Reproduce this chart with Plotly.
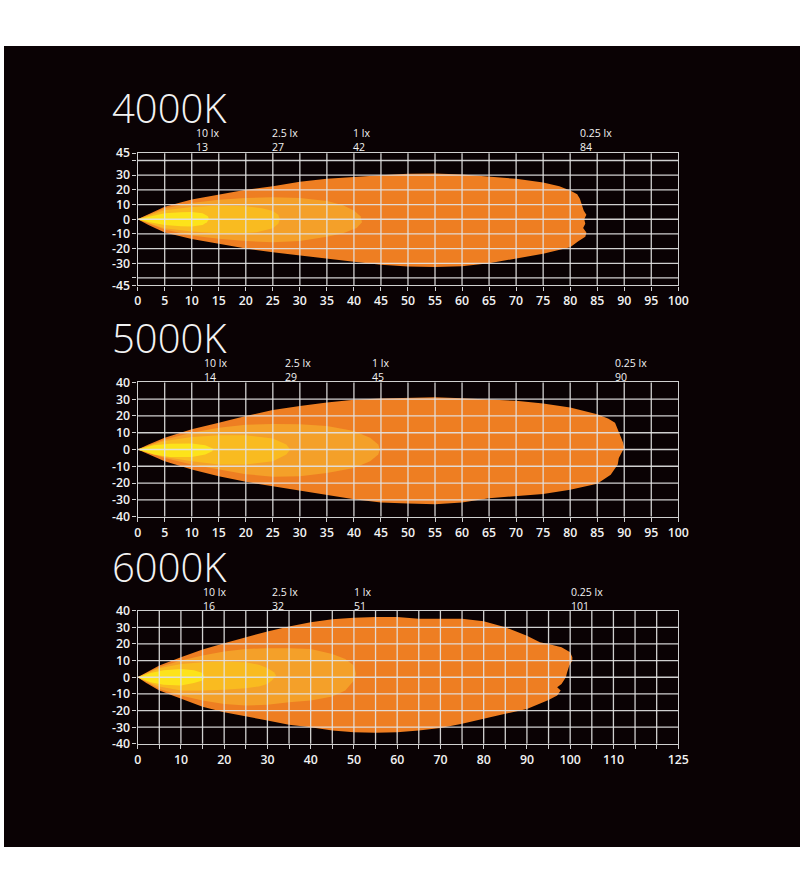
import plotly.graph_objects as go

# ---------------- data ----------------
PANEL_TITLES = ["4000K", "5000K", "6000K"]
LUX_LEVELS = ["10 lx", "2.5 lx", "1 lx", "0.25 lx"]

DIST_4000K = [13, 27, 42, 84]
DIST_5000K = [14, 29, 45, 90]
DIST_6000K = [16, 32, 51, 101]

X_TICKS_100 = list(range(0, 101, 5))
X_LABELS_100 = [str(v) for v in X_TICKS_100]
X_TICKS_125 = list(range(0, 126, 5))
X_LABELS_125 = ["0", "", "10", "", "20", "", "30", "", "40", "", "50", "", "60", "",
                "70", "", "80", "", "90", "", "100", "", "110", "", "", "125"]
Y_TICKS_45 = [-45, -40, -30, -20, -10, 0, 10, 20, 30, 40, 45]
Y_LABELS_45 = ["-45", "", "-30", "-20", "-10", "0", "10", "20", "30", "", "45"]
Y_TICKS_40 = [-40, -30, -20, -10, 0, 10, 20, 30, 40]
Y_LABELS_40 = ["-40", "-30", "-20", "-10", "0", "10", "20", "30", "40"]

# ---- 4000K isolux outlines (distance m, width m) ----
K4_025_X = [0, 2, 5, 10, 15, 20, 25, 30, 35, 40, 45, 50, 55, 60, 65, 70, 75, 78, 80, 81.3, 81.8, 82.2,
            82.5, 83, 82.6, 82.8, 82.4, 83, 82.8, 81.5, 80, 75, 70, 65, 60, 55, 50, 45, 40, 35, 30,
            25, 20, 15, 10, 5, 2, 0]
K4_025_Y = [0, 3.5, 8.5, 13.5, 17, 20, 22.5, 25.5, 27.5, 29, 30, 31, 31.2, 30.5, 29.2, 27.5, 25, 22.5,
            19.5, 17, 14, 10, 6, 3, 0, -3, -6, -9, -12, -15, -19, -23.5, -27, -30, -32, -32.5, -32.2,
            -31, -29, -27, -25, -22.5, -20, -17, -13.5, -9, -4, 0]
K4_1_X = [0, 2, 5, 10, 15, 20, 25, 30, 35, 38, 40, 41.2, 41.5, 40.5, 38, 35, 30, 25, 20, 15, 10, 5, 2, 0]
K4_1_Y = [0, 3, 7.5, 11, 13.3, 14.4, 15, 14.5, 12.5, 9.5, 6, 2, -2, -6, -9.5, -12, -14.8, -15.6,
          -14.9, -13.3, -11, -7, -3, 0]
K4_25_X = [0, 2, 5, 10, 15, 20, 23, 25, 26, 26.3, 26, 25, 22, 20, 15, 10, 5, 2, 0]
K4_25_Y = [0, 2.5, 6.2, 8.4, 9.3, 8.9, 7.5, 5.6, 3, 0, -3, -6.2, -8.8, -9.3, -9.6, -8.4, -6.2, -2.5, 0]
K4_10_X = [0, 2, 5, 8, 10, 12, 13, 13.2, 12.8, 12, 10, 8, 5, 2, 0]
K4_10_Y = [0, 1.8, 4, 4.8, 4.9, 4, 2, 0, -2, -4, -4.9, -4.8, -4, -1.8, 0]

# ---- 5000K ----
K5_025_X = [0, 2, 5, 10, 15, 20, 25, 30, 35, 40, 45, 50, 55, 60, 65, 70, 75, 80, 85, 87, 88.3, 88.8,
            89.3, 89.8, 90, 89.5, 89, 88.8, 88.2, 87.5, 85, 80, 75, 70, 65, 60, 55, 50, 45, 40, 35,
            30, 25, 20, 15, 10, 5, 2, 0]
K5_025_Y = [0, 3, 7, 12, 16, 20, 23.5, 26, 28, 29.6, 30.4, 30.8, 31.2, 30.6, 30, 29, 27.4, 25, 21,
            18.5, 16, 12, 8, 4, 1, -2, -5, -9, -12, -15, -20.5, -24, -26.5, -27.6, -29, -31.6, -32.6,
            -32.2, -31.6, -29.6, -27, -24.6, -22, -19.3, -16, -12, -7, -3, 0]
K5_1_X = [0, 2, 5, 10, 15, 20, 25, 30, 35, 40, 43, 44.5, 44.8, 44.5, 43, 40, 35, 30, 25, 20, 15, 10, 5, 2, 0]
K5_1_Y = [0, 2.5, 6, 10, 13, 14.7, 15.2, 15, 14, 11, 7, 3, 0, -3, -7, -11, -14, -16, -16.2, -14.7,
          -12, -9, -5, -2, 0]
K5_25_X = [0, 2, 5, 10, 15, 20, 25, 27.5, 28.2, 27.5, 25, 20, 15, 10, 5, 2, 0]
K5_25_Y = [0, 2.3, 5, 7.5, 8.5, 8.5, 6.5, 3, 0, -3, -7, -9, -9, -7, -4.5, -2, 0]
K5_10_X = [0, 3, 6, 10, 12.5, 14, 13.8, 12.5, 10, 6, 3, 0]
K5_10_Y = [0, 2.5, 3.5, 3.6, 2.5, 0.5, -1, -3, -4.5, -4.5, -3, 0]

# ---- 6000K ----
K6_025_X = [0, 2, 5, 10, 15, 20, 25, 30, 35, 40, 45, 50, 55, 60, 65, 70, 75, 80, 85, 90, 93, 95, 98,
            100, 100.5, 100.5, 99.8, 99.3, 99, 98, 97, 97.8, 97, 95, 90, 85, 80, 75, 70, 65, 60, 55,
            50, 45, 40, 35, 30, 25, 20, 15, 10, 5, 2, 0]
K6_025_Y = [0, 3, 7, 12, 16.7, 20.5, 24, 27.5, 30.5, 33, 34.8, 35.8, 36.2, 36.2, 35.2, 35, 35.2, 33.6,
            30, 25, 21, 20, 18, 15, 12, 10, 7, 3, 0, -4, -6, -8, -11, -13.7, -19, -22, -25, -28,
            -30.5, -32, -33, -33.3, -33, -32, -30, -28.5, -26, -23.5, -21, -17.7, -13, -8, -3.5, 0]
K6_1_X = [0, 2, 5, 10, 15, 20, 25, 30, 35, 40, 45, 48, 50, 50.5, 50, 49, 48, 45, 40, 35, 30, 25, 20,
          15, 10, 5, 2, 0]
K6_1_Y = [0, 2.5, 6.2, 10, 13, 15.5, 17, 17.5, 17.5, 17, 14, 11, 7, 2, -2, -5, -8, -11.5, -14, -15,
          -16.5, -17, -16, -14, -11, -7, -3, 0]
K6_25_X = [0, 2, 5, 10, 15, 20, 25, 28, 30, 31.5, 32, 31, 30, 28, 25, 20, 15, 10, 5, 2, 0]
K6_25_Y = [0, 2.3, 5.4, 8, 9, 9.5, 9, 7.5, 5.5, 3, 1, -2, -4, -5.5, -6.6, -7.5, -8, -8, -5.6, -2.5, 0]
K6_10_X = [0, 3, 6, 10, 13, 15, 15.5, 15, 13, 10, 6, 3, 0]
K6_10_Y = [0, 2.5, 4.2, 5, 4.2, 2.5, 0, -2, -3.5, -5, -4.5, -3, 0]

# ---------------- styling / layout ----------------
W, H = 812, 900                      # figure covers the whole captured window
BG = "#0a0204"
GRID = "rgba(226,226,226,0.92)"
TXT = "#f2f2f2"
FILLS = ["#ee7e22", "#f4a029", "#f9bb20", "#fde31a"]   # 0.25, 1, 2.5, 10 lx
TICK_FONT = dict(family="Open Sans, Liberation Sans, sans-serif", size=12.3, color=TXT, weight=600)
LUX_FONT = dict(family="Open Sans, Liberation Sans, sans-serif", size=10.5, color=TXT)
TITLE_FONT = dict(family="Open Sans, Lato, sans-serif", size=40, color=TXT, weight=300)

# calibration from target screen pixels to figure pixels
OX, OY, SX, SY = 3.0, 9.0, 0.984, 0.98


def fx(t):
    return (t - OX) / SX / W


def fy(t):
    return 1 - (t - OY) / SY / H


panels = [
    dict(title=PANEL_TITLES[0], dists=DIST_4000K, xr=[0, 100], yr=[-45, 45],
         xt=X_TICKS_100, xl=X_LABELS_100, yt=Y_TICKS_45, yl=Y_LABELS_45,
         top=153, bot=285, tcy=107, lshift=-13.5, lyshift=-2.5,
         shapes=[(K4_025_X, K4_025_Y), (K4_1_X, K4_1_Y), (K4_25_X, K4_25_Y), (K4_10_X, K4_10_Y)]),
    dict(title=PANEL_TITLES[1], dists=DIST_5000K, xr=[0, 100], yr=[-40, 40],
         xt=X_TICKS_100, xl=X_LABELS_100, yt=Y_TICKS_40, yl=Y_LABELS_40,
         top=382, bot=516, tcy=337, lshift=-11, lyshift=-4,
         shapes=[(K5_025_X, K5_025_Y), (K5_1_X, K5_1_Y), (K5_25_X, K5_25_Y), (K5_10_X, K5_10_Y)]),
    dict(title=PANEL_TITLES[2], dists=DIST_6000K, xr=[0, 125], yr=[-40, 40],
         xt=X_TICKS_125, xl=X_LABELS_125, yt=Y_TICKS_40, yl=Y_LABELS_40,
         top=610, bot=743, tcy=566, lshift=-6, lyshift=-4,
         shapes=[(K6_025_X, K6_025_Y), (K6_1_X, K6_1_Y), (K6_25_X, K6_25_Y), (K6_10_X, K6_10_Y)]),
]

fig = go.Figure()
layout = dict(
    width=W, height=H, margin=dict(l=0, r=0, t=0, b=0),
    paper_bgcolor="white", plot_bgcolor=BG, showlegend=False,
    shapes=[dict(type="rect", xref="paper", yref="paper", x0=0, x1=1,
                 y0=fy(846), y1=fy(46), fillcolor=BG, line=dict(width=0), layer="below")],
    annotations=[],
)

X0, X1 = fx(137), fx(679)

for i, p in enumerate(panels):
    n = "" if i == 0 else str(i + 1)
    xa, ya = "x" + n, "y" + n
    for (sx, sy), col in zip(p["shapes"], FILLS):
        fig.add_trace(go.Scatter(x=sx, y=sy, xaxis=xa, yaxis=ya, mode="lines",
                                 fill="toself", fillcolor=col, line=dict(width=0, color=col),
                                 hoverinfo="skip"))
    axis_common = dict(showgrid=False, zeroline=False, showline=True, mirror=True,
                       linecolor=GRID, linewidth=1.4, ticks="outside", ticklen=4,
                       tickcolor=GRID, tickwidth=1.3, tickfont=TICK_FONT, layer="above traces",
                       fixedrange=True)
    layout["xaxis" + n] = dict(axis_common, domain=[X0, X1], range=p["xr"], anchor=ya,
                               tickmode="array", tickvals=p["xt"], ticktext=p["xl"])
    layout["yaxis" + n] = dict(axis_common, domain=[fy(p["bot"]), fy(p["top"])], range=p["yr"],
                               anchor=xa, tickmode="array", tickvals=p["yt"], ticktext=p["yl"])
    # grid drawn above the beam
    for v in p["xt"][1:-1]:
        layout["shapes"].append(dict(type="line", xref=xa, yref=ya + " domain", x0=v, x1=v,
                                     y0=0, y1=1, line=dict(color=GRID, width=1.3), layer="above"))
    for v in p["yt"][1:-1]:
        layout["shapes"].append(dict(type="line", xref=xa + " domain", yref=ya, x0=0, x1=1,
                                     y0=v, y1=v, line=dict(color=GRID, width=1.3), layer="above"))
    # title
    layout["annotations"].append(dict(text=p["title"], xref="paper", yref="paper", x=fx(109),
                                      y=fy(p["tcy"]), xanchor="left", yanchor="middle",
                                      showarrow=False, font=TITLE_FONT))
    # lux labels (level over distance)
    for lux, d in zip(LUX_LEVELS, p["dists"]):
        layout["annotations"].append(dict(text=f"{lux}<br>{d}", xref=xa, yref=ya + " domain",
                                          x=d, y=1, xanchor="left", yanchor="bottom", align="left",
                                          xshift=p["lshift"], yshift=p["lyshift"], showarrow=False,
                                          font=LUX_FONT))

fig.update_layout(**layout)
fig.write_html("out.html", config={"displayModeBar": False},
               post_script="document.body.style.margin='0';document.body.style.overflow='hidden';")
